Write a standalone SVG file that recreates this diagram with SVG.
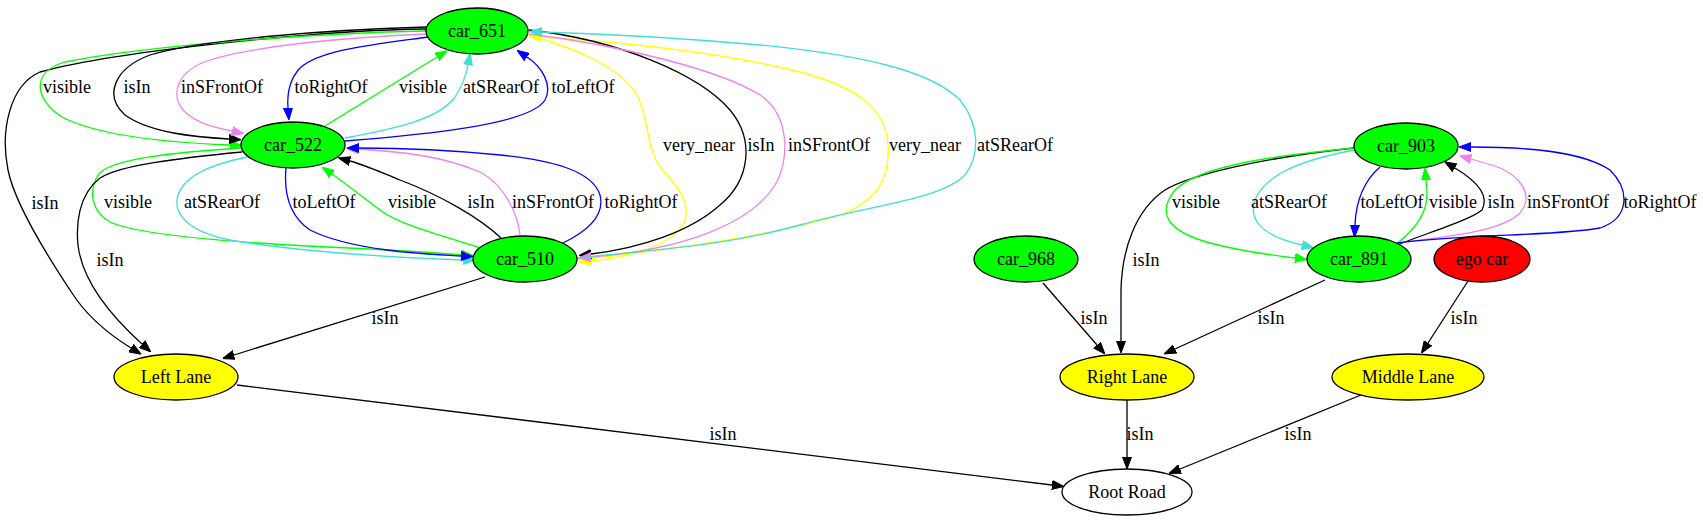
<svg xmlns="http://www.w3.org/2000/svg" width="1703" height="523" viewBox="0 0 1703 523">
<style>
text{font-family:"Liberation Serif","Times New Roman",serif;font-size:18px;fill:#000;text-anchor:middle}
.n ellipse{stroke:#000;stroke-width:1.3}
.car{fill:#00ff00}.lane{fill:#ffff00}.ego{fill:#ff0000}.root{fill:#fff}
#edges path{fill:none;stroke-width:1.3}
.k{stroke:#000}.g{stroke:#00ff00}.b{stroke:#0000ff}.v{stroke:#ee82ee}.t{stroke:#40e0d0}.y{stroke:#ffff00}
</style>
<defs>
<marker id="mk" viewBox="0 0 12 10" refX="0" refY="5" markerWidth="12" markerHeight="10" markerUnits="userSpaceOnUse" orient="auto"><path d="M0,0.5L12,5L0,9.5z" fill="#000" stroke="#000" stroke-width="1"/></marker>
<marker id="mg" viewBox="0 0 12 10" refX="0" refY="5" markerWidth="12" markerHeight="10" markerUnits="userSpaceOnUse" orient="auto"><path d="M0,0.5L12,5L0,9.5z" fill="#00ff00" stroke="#00ff00" stroke-width="1"/></marker>
<marker id="mb" viewBox="0 0 12 10" refX="0" refY="5" markerWidth="12" markerHeight="10" markerUnits="userSpaceOnUse" orient="auto"><path d="M0,0.5L12,5L0,9.5z" fill="#0000ff" stroke="#0000ff" stroke-width="1"/></marker>
<marker id="mv" viewBox="0 0 12 10" refX="0" refY="5" markerWidth="12" markerHeight="10" markerUnits="userSpaceOnUse" orient="auto"><path d="M0,0.5L12,5L0,9.5z" fill="#ee82ee" stroke="#ee82ee" stroke-width="1"/></marker>
<marker id="mt" viewBox="0 0 12 10" refX="0" refY="5" markerWidth="12" markerHeight="10" markerUnits="userSpaceOnUse" orient="auto"><path d="M0,0.5L12,5L0,9.5z" fill="#40e0d0" stroke="#40e0d0" stroke-width="1"/></marker>
<marker id="my" viewBox="0 0 12 10" refX="0" refY="5" markerWidth="12" markerHeight="10" markerUnits="userSpaceOnUse" orient="auto"><path d="M0,0.5L12,5L0,9.5z" fill="#ffff00" stroke="#ffff00" stroke-width="1"/></marker>
</defs>
<rect width="1703" height="523" fill="#fff"/>
<g id="edges">
<!-- car_651 -> Left Lane -->
<path class="k" marker-end="url(#mk)" d="M426,29C330,30 120,50 40,72C10,85 0,130 8,170C15,205 50,260 72,293C88,318 110,335 131,348"/>
<text x="45" y="209">isIn</text>
<!-- car_651 -> car_522 -->
<path class="g" marker-end="url(#mg)" d="M426,31C320,33 150,45 65,62C30,72 35,100 62,117C100,137 180,143 230,145"/>
<text x="67" y="93">visible</text>
<path class="k" marker-end="url(#mk)" d="M427,27C320,30 200,40 150,55C115,68 103,95 125,115C150,133 195,137 229,139"/>
<text x="137" y="93">isIn</text>
<path class="v" marker-end="url(#mv)" d="M427,34C350,37 260,45 210,60C178,70 168,95 185,112C198,124 214,127 232,131"/>
<text x="222" y="93">inSFrontOf</text>
<path class="b" marker-end="url(#mb)" d="M428,37C370,45 320,50 300,68C289,80 287,95 288,108"/>
<text x="331" y="93">toRightOf</text>
<!-- car_522 -> car_651 -->
<path class="g" marker-end="url(#mg)" d="M325,126L437,57"/>
<text x="423" y="93">visible</text>
<path class="t" marker-end="url(#mt)" d="M345,138C400,128 440,118 455,97C462,86 466,76 468,65"/>
<text x="501" y="93">atSRearOf</text>
<path class="b" marker-end="url(#mb)" d="M345,141C420,135 530,125 545,100C553,85 542,67 527,57"/>
<text x="583" y="93">toLeftOf</text>
<!-- car_651 <-> car_510 -->
<path class="y" marker-end="url(#my)" d="M577,260C650,252 770,237 840,215C880,200 890,175 888,145C886,110 860,88 800,72C720,52 620,42 541,37"/>
<path class="y" marker-end="url(#my)" d="M528,35C565,45 620,65 637,95C650,120 645,145 660,167C672,182 688,195 686,215C684,240 640,256 591,261"/>
<text x="699" y="151">very_near</text>
<path class="k" marker-end="url(#mk)" d="M529,30C620,40 700,75 730,110C755,140 750,180 720,205C690,232 640,248 591,254"/>
<text x="761" y="151">isIn</text>
<path class="v" marker-end="url(#mv)" d="M529,34C620,45 720,70 760,95C790,115 790,160 775,185C750,225 680,250 591,257"/>
<text x="829" y="151">inSFrontOf</text>
<text x="925" y="151">very_near</text>
<path class="t" marker-end="url(#mt)" d="M577,258C650,250 720,247 800,225C870,205 940,200 965,175C980,155 980,125 960,100C930,70 860,55 760,45C680,38 610,34 542,32"/>
<text x="1015" y="151">atSRearOf</text>
<!-- car_522 -> car_510 -->
<path class="g" marker-end="url(#mg)" d="M242,148C180,152 110,158 98,175C88,192 92,212 110,222C140,236 250,244 370,249C410,251 440,253 462,255"/>
<text x="128" y="208">visible</text>
<path class="t" marker-end="url(#mt)" d="M247,157C210,165 185,175 178,195C172,215 190,232 230,240C300,252 400,258 463,260"/>
<text x="222" y="208">atSRearOf</text>
<path class="b" marker-end="url(#mb)" d="M286,168C284,190 288,215 310,230C350,250 420,254 461,256"/>
<text x="324" y="208">toLeftOf</text>
<!-- car_510 -> car_522 -->
<path class="g" marker-end="url(#mg)" d="M481,248C440,235 400,225 380,210C360,195 345,183 332,174"/>
<text x="412" y="208">visible</text>
<path class="k" marker-end="url(#mk)" d="M501,238C480,218 440,195 400,180C380,172 365,165 350,161"/>
<text x="481" y="208">isIn</text>
<path class="v" marker-end="url(#mv)" d="M520,235C518,215 505,185 480,172C440,155 400,152 358,149"/>
<text x="553" y="208">inSFrontOf</text>
<path class="b" marker-end="url(#mb)" d="M563,243C590,230 605,215 600,195C592,170 550,160 500,155C450,150 400,148 359,148"/>
<text x="641" y="208">toRightOf</text>
<!-- to Left Lane -->
<path class="k" marker-end="url(#mk)" d="M242,152C180,158 120,165 100,178C78,195 76,225 78,245C82,280 110,315 142,344"/>
<text x="110" y="266">isIn</text>
<path class="k" marker-end="url(#mk)" d="M485,277L234,355"/>
<text x="385" y="324">isIn</text>
<path class="k" marker-end="url(#mk)" d="M237,385L1052,485"/>
<text x="723" y="440">isIn</text>
<!-- right cluster -->
<path class="k" marker-end="url(#mk)" d="M1354,148C1260,158 1190,175 1165,190C1135,210 1122,250 1121,290L1121,341"/>
<text x="1146" y="266">isIn</text>
<path class="g" marker-end="url(#mg)" d="M1354,148C1280,155 1200,165 1175,190C1155,215 1170,232 1210,243C1240,251 1270,255 1295,258"/>
<text x="1196" y="208">visible</text>
<path class="t" marker-end="url(#mt)" d="M1355,150C1300,160 1265,175 1255,200C1248,220 1262,236 1302,245"/>
<text x="1289" y="208">atSRearOf</text>
<path class="b" marker-end="url(#mb)" d="M1380,167C1365,180 1356,200 1355,225"/>
<text x="1392" y="208">toLeftOf</text>
<path class="g" marker-end="url(#mg)" d="M1395,245C1415,230 1428,212 1427,192L1426,180"/>
<text x="1453" y="208">visible</text>
<path class="k" marker-end="url(#mk)" d="M1397,245C1430,232 1470,220 1482,210C1490,195 1475,180 1455,168"/>
<text x="1501" y="208">isIn</text>
<path class="v" marker-end="url(#mv)" d="M1397,243C1450,236 1500,232 1520,213C1535,195 1520,175 1495,166L1471,159"/>
<text x="1568" y="208">inSFrontOf</text>
<path class="b" marker-end="url(#mb)" d="M1397,243C1460,234 1560,236 1600,228C1630,218 1630,190 1610,170C1580,150 1520,147 1471,147"/>
<text x="1660" y="208">toRightOf</text>
<path class="k" marker-end="url(#mk)" d="M1043,283L1097,345"/>
<text x="1094" y="324">isIn</text>
<path class="k" marker-end="url(#mk)" d="M1325,280L1175,349"/>
<text x="1271" y="324">isIn</text>
<path class="k" marker-end="url(#mk)" d="M1468,281L1428,343"/>
<text x="1464" y="324">isIn</text>
<path class="k" marker-end="url(#mk)" d="M1127,400L1127,457"/>
<text x="1140" y="440">isIn</text>
<path class="k" marker-end="url(#mk)" d="M1361,395L1180,469"/>
<text x="1298" y="440">isIn</text>
</g>
<g id="car_651" class="n"><ellipse class="car" cx="477" cy="31" rx="51" ry="23"/><text x="477" y="37">car_651</text></g>
<g id="car_522" class="n"><ellipse class="car" cx="293" cy="145" rx="52" ry="23"/><text x="293" y="151">car_522</text></g>
<g id="car_510" class="n"><ellipse class="car" cx="525" cy="259" rx="52" ry="23"/><text x="525" y="265">car_510</text></g>
<g id="car_968" class="n"><ellipse class="car" cx="1026" cy="259" rx="52" ry="23"/><text x="1026" y="265">car_968</text></g>
<g id="car_903" class="n"><ellipse class="car" cx="1406" cy="146" rx="52" ry="23"/><text x="1406" y="152">car_903</text></g>
<g id="car_891" class="n"><ellipse class="car" cx="1359" cy="259" rx="52" ry="23"/><text x="1359" y="265">car_891</text></g>
<g id="ego_car" class="n"><ellipse class="ego" cx="1482" cy="259" rx="48" ry="23"/><text x="1482" y="265">ego car</text></g>
<g id="left_lane" class="n"><ellipse class="lane" cx="176" cy="377" rx="62" ry="23"/><text x="176" y="383">Left Lane</text></g>
<g id="right_lane" class="n"><ellipse class="lane" cx="1127" cy="377" rx="67" ry="23"/><text x="1127" y="383">Right Lane</text></g>
<g id="middle_lane" class="n"><ellipse class="lane" cx="1408" cy="377" rx="76" ry="23"/><text x="1408" y="383">Middle Lane</text></g>
<g id="root_road" class="n"><ellipse class="root" cx="1127" cy="492" rx="65" ry="23"/><text x="1127" y="498">Root Road</text></g>
</svg>
